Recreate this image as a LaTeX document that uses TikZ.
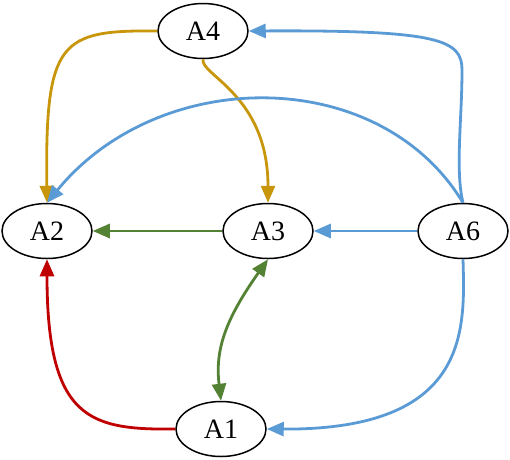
\documentclass[tikz,border=0pt]{standalone}
\usepackage{fontspec}
\setmainfont{Liberation Serif}
\usetikzlibrary{arrows.meta,shapes.geometric}
\definecolor{cgold}{RGB}{200,150,10}
\definecolor{cblue}{RGB}{91,155,213}
\definecolor{cgreen}{RGB}{84,130,53}
\definecolor{cred}{RGB}{192,0,0}
\begin{document}
\begin{tikzpicture}[x=1pt,y=-1pt,
  nd/.style={draw=black,line width=1.5pt,ellipse,minimum width=90pt,minimum height=55pt,inner sep=0pt,font=\fontsize{28}{30}\selectfont},
  ed/.style={line width=2.8pt,-{Triangle[length=17pt,width=14pt]}},
  bd/.style={line width=2.8pt,{Triangle[length=17pt,width=14pt]}-{Triangle[length=17pt,width=14pt]}}]
\useasboundingbox (0,0) rectangle (510,459);
\node[nd] (A4) at (203,31) {A4};
\node[nd] (A2) at (47,231) {A2};
\node[nd] (A3) at (268,231) {A3};
\node[nd] (A6) at (463,231) {A6};
\node[nd] (A1) at (221,429) {A1};
% gold
\draw[ed,cgold] (A4.west) .. controls (60,30) and (45,40) .. (A2.north);
\draw[ed,cgold] (A4.south) .. controls (200,75) and (268,95) .. (A3.north);
% blue
\draw[ed,cblue] (A6.north) .. controls (455,170) and (462,120) .. (462,70) .. controls (462,40) and (440,30) .. (A4.east);
\draw[ed,cblue] (A6.north) .. controls (380,65) and (160,65) .. (A2.north);
\draw[ed,cblue] (A6.west) -- (A3.east);
\draw[ed,cblue] (A6.south) .. controls (465,330) and (470,430) .. (A1.east);
% green
\draw[ed,cgreen] (A3.west) -- (A2.east);
\draw[bd,cgreen] (A3.south) .. controls (225,320) and (215,350) .. (A1.north);
% red
\draw[ed,cred] (A1.west) .. controls (90,430) and (47,420) .. (A2.south);
\end{tikzpicture}
\end{document}
